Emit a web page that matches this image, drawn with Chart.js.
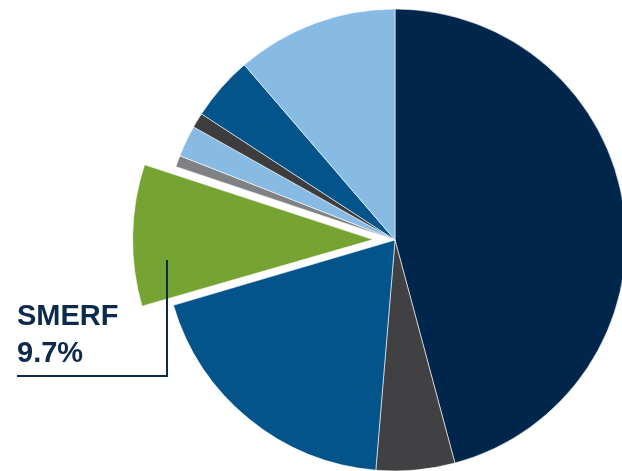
<!DOCTYPE html>
<html>
<head>
<meta charset="utf-8">
<script src="https://cdn.jsdelivr.net/npm/chart.js@4.4.1/dist/chart.umd.min.js"></script>
<style>
  html, body { margin: 0; padding: 0; background: #fff; overflow: hidden; }
  #wrap { position: relative; width: 622px; height: 471px; }
</style>
</head>
<body>
<div id="wrap"><canvas id="pie" width="622" height="471"></canvas></div>
<script>
/* Allocation pie — SMERF slice pulled out with a leader-line callout. */
const labels = ["Core", "Cash", "Fixed income", "SMERF", "Other A", "Other B", "Other C", "Other D", "Other E"];
const shares = [45.8, 5.5, 19.1, 9.7, 0.8, 2.2, 1.05, 4.5, 11.3];
const colors = ["#00264c", "#414042", "#02548a", "#76a433", "#808184", "#87bbe4", "#3d3d3f", "#02548a", "#87bbe4"];
const offsets = [0, 0, 0, 88, 0, 0, 0, 0, 0];
const callout = { name: "SMERF", value: "9.7%" };

const NAVY = "#0c2a4b";

// draws the callout text and its elbow line in the left margin
const calloutPlugin = {
  id: "callout",
  afterDatasetsDraw(chart) {
    const ctx = chart.ctx;
    ctx.save();
    ctx.strokeStyle = NAVY;
    ctx.lineWidth = 2;
    ctx.beginPath();
    ctx.moveTo(167, 260);
    ctx.lineTo(167, 376);
    ctx.lineTo(17, 376);
    ctx.stroke();
    ctx.fillStyle = NAVY;
    ctx.font = "bold 29px 'Liberation Sans', Arial, sans-serif";
    ctx.textBaseline = "alphabetic";
    ctx.fillText(callout.name, 17, 325);
    ctx.fillText(callout.value, 17, 362);
    ctx.restore();
  }
};

new Chart(document.getElementById("pie"), {
  type: "pie",
  data: {
    labels: labels,
    datasets: [{
      data: shares,
      backgroundColor: colors,
      borderColor: "#ffffff",
      borderWidth: 0.6,
      offset: offsets
    }]
  },
  options: {
    responsive: false,
    animation: false,
    radius: 231,
    layout: { padding: { left: 168, right: 0, top: 9, bottom: 0 } },
    plugins: { legend: { display: false }, tooltip: { enabled: false } }
  },
  plugins: [calloutPlugin]
});
</script>
</body>
</html>
